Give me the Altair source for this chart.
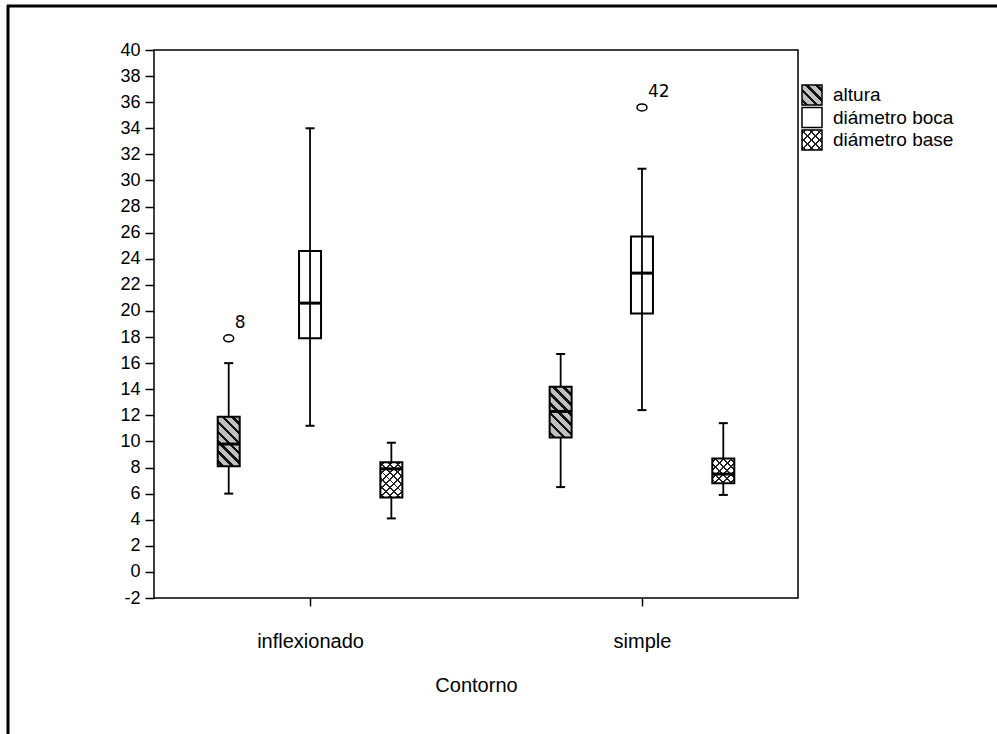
import json
import math

import altair as alt
import pandas as pd

# ---------------------------------------------------------------------------
# Data: five-number summaries of vessel measurements (cm) by contour type
# ---------------------------------------------------------------------------
contornos = ["inflexionado", "simple"]
variables = ["altura", "diámetro boca", "diámetro base"]

# rows follow contornos x variables order
bigote_inf = [6.0, 11.2, 4.1, 6.5, 12.4, 5.9]
q1 = [8.1, 17.9, 5.7, 10.3, 19.8, 6.8]
mediana = [9.8, 20.6, 7.9, 12.3, 22.9, 7.5]
q3 = [11.9, 24.6, 8.4, 14.2, 25.7, 8.7]
bigote_sup = [16.0, 34.0, 9.9, 16.7, 30.9, 11.4]

# outlying cases
atipico_contorno = ["inflexionado", "simple"]
atipico_variable = ["altura", "diámetro boca"]
atipico_valor = [17.9, 35.6]
atipico_caso = ["8", "42"]

y_ticks = [-2, 0, 2, 4, 6, 8, 10, 12, 14, 16, 18, 20, 22, 24, 26, 28, 30, 32, 34, 36, 38, 40]

# ---------------------------------------------------------------------------
# Layout constants
# ---------------------------------------------------------------------------
W, H = 644, 548
Y_DOMAIN = [-2, 40]
PX_PER_UNIT = H / (Y_DOMAIN[1] - Y_DOMAIN[0])
BOX_W = 22
FONT = "Liberation Sans"
desplazamiento = {"altura": -0.245, "diámetro boca": 0.0, "diámetro base": 0.245}

filas = [(c, v) for c in contornos for v in variables]
cajas = pd.DataFrame({
    "contorno": [c for c, _ in filas],
    "variable": [v for _, v in filas],
    "bigote_inf": bigote_inf,
    "q1": q1,
    "mediana": mediana,
    "q3": q3,
    "bigote_sup": bigote_sup,
})
cajas["pos"] = [contornos.index(c) + desplazamiento[v] for c, v in filas]

atipicos = pd.DataFrame({
    "contorno": atipico_contorno,
    "variable": atipico_variable,
    "valor": atipico_valor,
    "caso": atipico_caso,
})
atipicos["pos"] = [contornos.index(c) + desplazamiento[v]
                   for c, v in zip(atipico_contorno, atipico_variable)]


# ---------------------------------------------------------------------------
# Hatch fills built from striped linear gradients (bbox units)
# ---------------------------------------------------------------------------
def rayado(w, h, periodo, grosor, sentido, fondo, trazo):
    k = (w + h) / (w * w + h * h)
    if sentido == "\\":
        x1, y1, x2, y2 = 0, 1, k * w, 1 - k * h
    else:
        x1, y1, x2, y2 = 0, 0, k * w, k * h
    n = (w + h) / math.sqrt(2) / periodo
    media = grosor / periodo / (2 * n)
    stops = [{"offset": 0, "color": fondo}]
    j = 0
    while True:
        c = (j + 0.5) / n
        a, b = c - media, c + media
        if a >= 1:
            break
        a, b = max(a, 0), min(b, 1)
        stops += [
            {"offset": round(a, 4), "color": fondo},
            {"offset": round(a, 4), "color": trazo},
            {"offset": round(b, 4), "color": trazo},
            {"offset": round(b, 4), "color": fondo},
        ]
        j += 1
    stops.append({"offset": 1, "color": fondo})
    return {"gradient": "linear", "x1": round(x1, 4), "y1": round(y1, 4),
            "x2": round(x2, 4), "y2": round(y2, 4), "stops": stops}


GRIS = "#c0c0c0"
NEGRO = "#111111"
CLARO = "rgba(255,255,255,0)"


def rellenos(w, h):
    """Return list of fills (drawn bottom to top) for each variable."""
    return {
        "altura": [rayado(w, h, 7.0, 2.6, "\\", GRIS, NEGRO)],
        "diámetro boca": ["transparent"],
        "diámetro base": [rayado(w, h, 5.5, 1.3, "\\", "#ffffff", "#222222"),
                          rayado(w, h, 5.5, 1.3, "/", CLARO, "#222222")],
    }


# ---------------------------------------------------------------------------
# Scales and axes shared by the box-plot layers
# ---------------------------------------------------------------------------
x_scale = alt.Scale(domain=[-0.455, 1.455], nice=False, zero=False)
y_scale = alt.Scale(domain=Y_DOMAIN, nice=False, zero=False)

x_axis = alt.Axis(
    values=[0, 1],
    labelExpr=f"{json.dumps(contornos, ensure_ascii=False)}[datum.value]",
    title="Contorno",
    tickSize=8,
    labelPadding=25,
    labelFontSize=20,
    titleFontSize=20,
    titlePadding=24,
    titleFontWeight="normal",
    labelFlush=False,
    grid=False,
)
y_axis = alt.Axis(
    values=y_ticks,
    labelExpr="'' + datum.value",
    title=None,
    tickSize=9,
    labelPadding=5,
    labelFontSize=18,
    labelOverlap=False,
    grid=False,
)

X = alt.X("pos:Q", scale=x_scale, axis=x_axis)


def Y(campo):
    return alt.Y(f"{campo}:Q", scale=y_scale, axis=y_axis)


base = alt.Chart(cajas)

bigotes = base.mark_rule(color="black", strokeWidth=1.8).encode(
    x=X, y=Y("bigote_inf"), y2="bigote_sup:Q"
)
tope_inf = base.mark_tick(
    orient="horizontal", size=9, thickness=2, color="black", opacity=1
).encode(x=X, y=Y("bigote_inf"))
tope_sup = base.mark_tick(
    orient="horizontal", size=9, thickness=2, color="black", opacity=1
).encode(x=X, y=Y("bigote_sup"))

capas_cajas = []
for fila in cajas.itertuples():
    alto = (fila.q3 - fila.q1) * PX_PER_UNIT
    fills = rellenos(BOX_W, alto)[fila.variable]
    for i, f in enumerate(fills):
        ultimo = i == len(fills) - 1
        kw = dict(size=BOX_W, fill=f, opacity=1)
        if ultimo:
            kw.update(stroke="black", strokeWidth=2)
        capas_cajas.append(
            base.mark_bar(**kw)
            .encode(x=X, y=Y("q1"), y2="q3:Q")
            .transform_filter(
                (alt.datum.contorno == fila.contorno) & (alt.datum.variable == fila.variable)
            )
        )

medianas = base.mark_tick(
    orient="horizontal", size=BOX_W, thickness=3, color="black", opacity=1
).encode(x=X, y=Y("mediana"))

ELIPSE = "M -1 0 A 1 0.7 0 1 1 1 0 A 1 0.7 0 1 1 -1 0 Z"
puntos = alt.Chart(atipicos).mark_point(
    shape=ELIPSE, size=100, filled=False, color="black", strokeWidth=1.5, opacity=1
).encode(x=X, y=Y("valor"))
casos = alt.Chart(atipicos).mark_text(
    align="left", baseline="alphabetic", dx=6, dy=-10, fontSize=17,
    font="DejaVu Sans", color="black"
).encode(x=X, y=Y("valor"), text="caso:N")

cuerpo = alt.layer(bigotes, tope_inf, tope_sup, *capas_cajas, medianas, puntos, casos)

# ---------------------------------------------------------------------------
# Legend drawn beside the plot frame
# ---------------------------------------------------------------------------
leyenda_df = pd.DataFrame({"variable": variables})
y_ley = alt.Y(
    "variable:N",
    scale=alt.Scale(type="point", domain=variables, range=[45, 90], padding=0),
    axis=None,
)
LEY_X = 658
capas_ley = []
for v in variables:
    fills = rellenos(20, 20)[v]
    if v == "diámetro boca":
        fills = ["white"]
    for i, f in enumerate(fills):
        kw = dict(size=400, fill=f, opacity=1, fillOpacity=1)
        if i == len(fills) - 1:
            kw.update(stroke="black", strokeWidth=1.5)
        capas_ley.append(
            alt.Chart(leyenda_df).mark_square(**kw)
            .encode(x=alt.value(LEY_X), y=y_ley)
            .transform_filter(alt.datum.variable == v)
        )
textos_ley = alt.Chart(leyenda_df).mark_text(
    align="left", baseline="middle", fontSize=19, font=FONT, color="black"
).encode(x=alt.value(LEY_X + 21), y=y_ley, text="variable:N")
leyenda = alt.layer(*capas_ley, textos_ley)

# ---------------------------------------------------------------------------
# Outer figure frame (top and left edges)
# ---------------------------------------------------------------------------
marco_df = pd.DataFrame({"lado": ["superior", "izquierdo"]})
marco_sup = alt.Chart(marco_df).mark_rule(color="black", strokeWidth=3).encode(
    x=alt.value(-147), x2=alt.value(W + 210), y=alt.value(-44), y2=alt.value(-44)
).transform_filter(alt.datum.lado == "superior")
marco_izq = alt.Chart(marco_df).mark_rule(color="black", strokeWidth=3).encode(
    x=alt.value(-146), x2=alt.value(-146), y=alt.value(-45), y2=alt.value(H + 150)
).transform_filter(alt.datum.lado == "izquierdo")

chart = (
    alt.layer(marco_sup, marco_izq, cuerpo, leyenda)
    .resolve_scale(y="independent")
    .properties(
        width=W,
        height=H,
        autosize=alt.AutoSizeParams(type="none"),
        padding={"left": 154, "top": 50, "right": 997 - 154 - W, "bottom": 734 - 50 - H},
        background="white",
    )
    .configure_view(stroke="black", strokeWidth=1.5)
    .configure_axis(
        labelFont=FONT,
        titleFont=FONT,
        labelColor="black",
        titleColor="black",
        tickColor="black",
        tickWidth=1.5,
        domain=False,
    )
)

chart.save("out.html", embed_options={"renderer": "svg", "actions": False})
